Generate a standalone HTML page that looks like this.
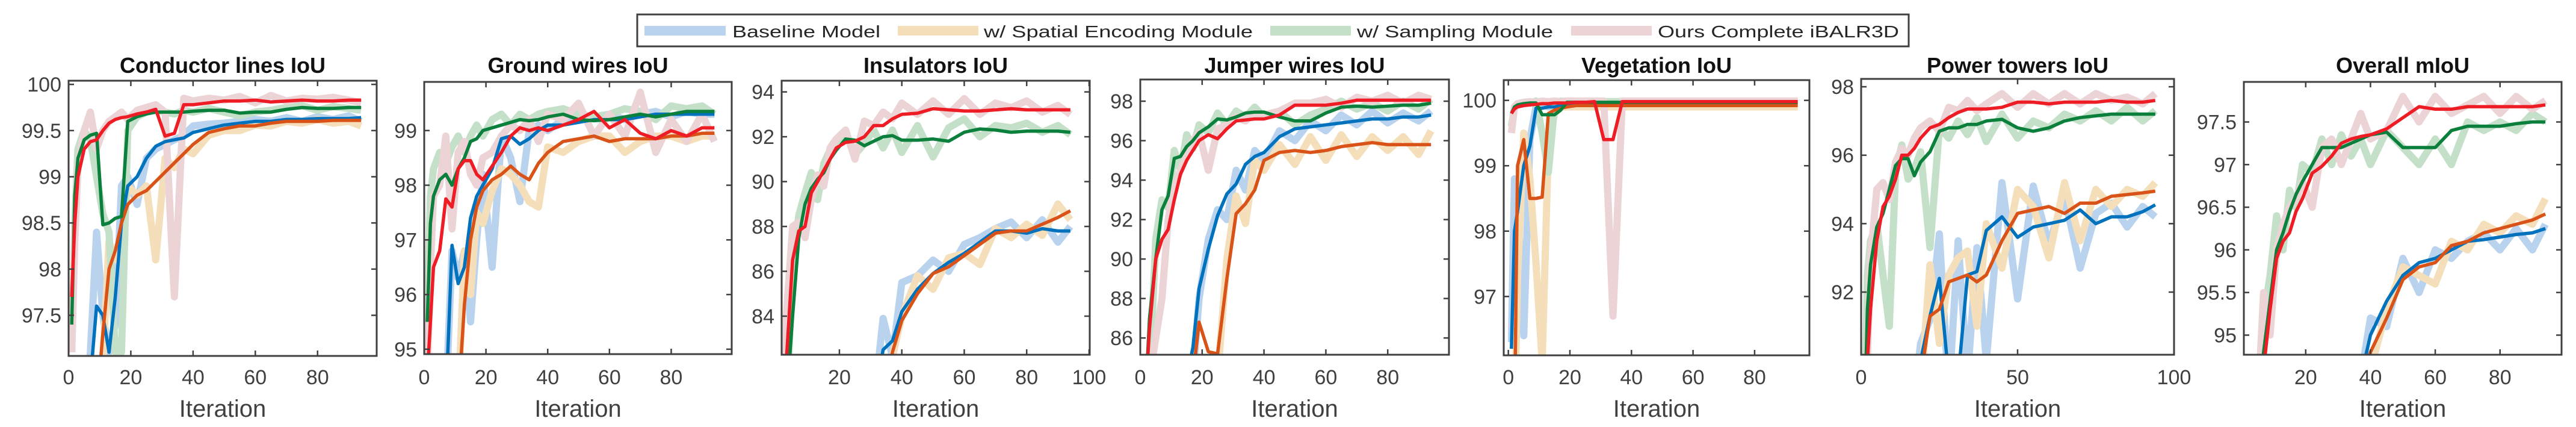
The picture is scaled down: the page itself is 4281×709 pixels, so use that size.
<!DOCTYPE html>
<html><head><meta charset="utf-8"><style>
html,body{margin:0;padding:0;background:#fff;}
svg{display:block;font-family:"Liberation Sans",Arial,sans-serif;}
</style></head><body>
<svg id="fig" width="4281" height="709" viewBox="0 0 4281 709" xmlns="http://www.w3.org/2000/svg">
<g id="legend">
<rect x="1059" y="24" width="2113" height="53" fill="#fff" stroke="#404040" stroke-width="3"/>
<g><rect x="1071" y="43" width="135" height="16" fill="#b9d3ee"/><text x="1217" y="62" font-size="28" textLength="246" lengthAdjust="spacingAndGlyphs" fill="#262626">Baseline Model</text></g>
<g><rect x="1492" y="43" width="134" height="16" fill="#f5dfba"/><text x="1635" y="62" font-size="28" textLength="447" lengthAdjust="spacingAndGlyphs" fill="#262626">w/ Spatial Encoding Module</text></g>
<g><rect x="2111" y="43" width="134" height="16" fill="#c4e0c8"/><text x="2255" y="62" font-size="28" textLength="326" lengthAdjust="spacingAndGlyphs" fill="#262626">w/ Sampling Module</text></g>
<g><rect x="2611" y="43" width="134" height="16" fill="#ecd4d6"/><text x="2755" y="62" font-size="28" textLength="401" lengthAdjust="spacingAndGlyphs" fill="#262626">Ours Complete iBALR3D</text></g>
</g>
</svg>
<script>
const iters=[1,2,3,5,7,9,11,13,15,17,19,22,25,28,31,34,37,40,45,50,55,60,65,70,75,80,85,90,94];
const panelTitles=["Conductor lines IoU","Ground wires IoU","Insulators IoU","Jumper wires IoU","Vegetation IoU","Power towers IoU","Overall mIoU"];
const yTicks=[[97.5,98,98.5,99,99.5,100],[95,96,97,98,99],[84,86,88,90,92,94],[86,88,90,92,94,96,98],[97,98,99,100],[92,94,96,98],[95,95.5,96,96.5,97,97.5]];
const xTicks=[[0,20,40,60,80],[0,20,40,60,80],[20,40,60,80,100],[0,20,40,60,80],[0,20,40,60,80],[0,50,100],[20,40,60,80]];
const xLimits=[[0,99],[0,99.6],[1.5,100.2],[0,99.8],[-1.5,97.8],[0,100],[0.9,99]];
const yLimits=[[97.06,100.04],[94.91,99.89],[82.28,94.5],[85.15,99.1],[96.1,100.31],[90.17,98.23],[94.77,97.97]];
// P1 Conductor lines
const p1BlueRaw=[96.5,96.5,96.5,96.5,97.1,98.4,97.5,97.1,97.4,98.9,99.0,98.7,99.2,99.3,99.35,99.4,99.45,99.55,99.57,99.58,99.6,99.62,99.6,99.64,99.6,99.65,99.62,99.66,99.6];
const p1OrangeRaw=[96.5,96.5,96.5,96.5,96.5,96.5,97.0,98.3,98.1,98.2,98.9,98.8,98.9,98.1,99.2,99.1,99.3,99.25,99.45,99.5,99.5,99.56,99.55,99.6,99.58,99.62,99.58,99.6,99.55];
const p1GreenRaw=[97.1,98.5,99.3,99.5,99.4,99.0,98.6,98.4,97.1,97.1,99.5,99.65,99.7,99.72,99.7,99.68,99.72,99.7,99.74,99.7,99.66,99.7,99.72,99.75,99.77,99.72,99.76,99.74,99.72];
const p1RedRaw=[97.1,98.3,99.1,99.5,99.7,99.3,99.5,99.6,99.65,99.7,99.62,99.72,99.75,99.78,99.7,97.7,99.85,99.82,99.85,99.83,99.87,99.8,99.88,99.82,99.85,99.84,99.86,99.83,99.8];
const p1Blue=[96.5,96.5,96.5,96.5,96.8,97.6,97.5,97.1,97.7,98.5,98.9,99.0,99.2,99.33,99.38,99.4,99.42,99.48,99.52,99.56,99.58,99.6,99.6,99.62,99.62,99.63,99.63,99.63,99.64];
const p1Orange=[96.5,96.5,96.5,96.5,96.5,96.5,97.3,98.0,98.2,98.5,98.7,98.8,98.85,98.95,99.05,99.15,99.25,99.35,99.48,99.52,99.55,99.55,99.58,99.6,99.6,99.6,99.61,99.61,99.61];
const p1Green=[97.4,98.8,99.2,99.4,99.45,99.47,98.48,98.5,98.55,98.57,99.6,99.65,99.68,99.7,99.7,99.7,99.7,99.71,99.72,99.72,99.69,99.7,99.7,99.73,99.75,99.74,99.74,99.75,99.75];
const p1Red=[97.7,98.5,99.0,99.3,99.38,99.4,99.5,99.58,99.62,99.64,99.65,99.68,99.7,99.73,99.44,99.47,99.78,99.78,99.8,99.82,99.82,99.83,99.81,99.82,99.83,99.82,99.82,99.83,99.83];
// P2 Ground wires
const p2BlueRaw=[94,94,94,94,94,96.8,96.3,96.8,95.5,97.0,98.2,96.5,98.9,98.5,97.7,99.0,99.1,99.0,99.2,99.2,99.25,99.3,99.2,99.3,99.35,99.25,99.35,99.3,99.3];
const p2OrangeRaw=[94,94,94,94,94,94,94,96.8,96.0,97.5,97.3,97.9,98.3,98.2,98.0,97.7,97.6,98.7,98.6,98.8,98.9,98.9,98.6,98.8,98.9,98.9,98.8,98.9,98.9];
const p2GreenRaw=[95.5,97.8,98.3,98.6,98.4,98.7,98.9,98.6,98.9,99.1,98.9,99.2,99.3,99.1,99.3,99.2,99.3,99.35,99.4,99.3,99.25,99.3,99.4,99.35,99.2,99.45,99.4,99.45,99.3];
const p2RedRaw=[94.5,96.5,97.8,98.0,98.9,97.2,98.6,98.8,98.2,98.0,98.5,98.6,98.9,99.1,99.0,99.2,98.8,99.3,99.2,99.5,98.9,99.3,98.9,99.7,98.6,99.2,98.8,99.3,98.8];
const p2Blue=[94,94,94,94,94,96.9,96.2,96.5,97.4,97.8,98.0,98.3,98.85,98.9,98.75,98.85,99.0,99.1,99.1,99.15,99.2,99.2,99.2,99.25,99.3,99.3,99.3,99.3,99.3];
const p2Orange=[94,94,94,94,94,94,94,95.8,97.0,97.6,97.9,98.1,98.2,98.35,98.2,98.1,98.4,98.6,98.8,98.85,98.9,98.8,98.85,98.85,98.85,98.9,98.9,98.95,98.95];
const p2Green=[95.5,97.3,97.8,98.1,98.2,98.0,98.3,98.5,98.8,98.85,99.0,99.05,99.1,99.15,99.2,99.18,99.2,99.25,99.3,99.2,99.18,99.2,99.25,99.3,99.25,99.3,99.35,99.35,99.35];
const p2Red=[94.5,95.5,96.5,96.8,97.75,97.6,98.3,98.45,98.45,98.2,98.1,98.35,98.6,98.9,99.05,99.0,99.05,99.0,99.1,99.2,99.35,99.05,99.2,98.95,98.85,99.0,98.9,99.05,99.05];
// P3 Insulators
const p3BlueRaw=[80,80,80,80,80,80,80,80,80,80,80,80,80,80,80,83.9,82.2,85.5,85.8,86.5,86.0,87.2,87.5,87.9,88.2,87.5,88.3,87.3,88.0];
const p3OrangeRaw=[80,80,80,80,80,80,80,80,80,80,80,80,80,80,80,80,82.2,84.0,85.8,85.2,86.6,86.8,86.3,87.9,87.5,88.1,87.6,89.0,88.3];
const p3GreenRaw=[80,80,80,86,88.5,89.5,90.4,89.2,90.8,91.4,91.8,92.2,91.2,91.7,92.3,91.5,92.3,91.3,92.5,91.1,92.4,92.8,92.0,92.5,92.4,92.6,92.2,92.5,92.1];
const p3RedRaw=[80,80,84,88,88.2,87.5,89.2,90.3,89.8,91.5,91.9,92.3,91.0,92.7,92.5,93.1,92.8,93.5,93.0,93.6,93.0,93.7,93.0,93.5,93.3,93.6,93.1,93.4,93.0];
const p3Blue=[80,80,80,80,80,80,80,80,80,80,80,80,80,80,80,82.5,82.9,84.2,85.2,85.9,86.4,86.8,87.3,87.8,87.8,87.7,87.9,87.8,87.8];
const p3Orange=[80,80,80,80,80,80,80,80,80,80,80,80,80,80,80,80,82.4,83.8,85.0,85.9,86.2,86.7,87.2,87.7,87.8,87.8,88.1,88.4,88.7];
const p3Green=[80,80,80,84,87.5,89.0,89.7,90.1,90.4,91.0,91.4,91.9,91.85,91.6,91.8,92.0,92.05,91.85,91.85,91.9,91.8,92.2,92.35,92.3,92.2,92.25,92.25,92.25,92.2];
const p3Red=[80,80,82,86.5,87.8,88.0,89.5,90.0,90.5,91.0,91.5,91.75,91.8,92.0,92.5,92.5,92.8,93.0,93.05,93.25,93.2,93.15,93.15,93.2,93.25,93.2,93.2,93.2,93.2];
// P4 Jumper wires
const p4BlueRaw=[84,84,84,84,84,84,84,84,84,84,88,91,92.5,92.0,94.5,93.5,95.5,95.0,96.5,96.0,97.0,96.5,97.3,96.8,97.5,96.9,97.4,97.0,97.5];
const p4OrangeRaw=[84,84,84,84,84,84,84,84,84,84,84,85,84,90,93.2,91.8,95,94.5,95.8,94.8,96.2,95.0,96.3,95.2,96.2,95.5,96.2,95.3,96.5];
const p4GreenRaw=[84,84,84,91,93,92.6,95.5,94.5,96.3,95.6,96.8,96.4,97.4,96.8,97.5,97.2,97.7,97.2,97.5,96.8,97.3,97.6,98.0,97.6,97.9,97.5,98.0,97.6,98.1];
const p4RedRaw=[84,84,84,86,88,92,93.7,94.5,95.2,96.0,96.4,94.5,96.6,96.8,97.2,97.0,97.4,97.3,97.5,97.9,97.9,98.1,97.7,98.2,98.0,98.3,97.9,98.3,98.1];
const p4Blue=[84,84,84,84,84,84,84,84,84,85.5,88.5,90.5,92.2,93.3,93.8,94.8,95.2,95.4,96.2,96.6,96.7,96.8,96.9,97.0,97.1,97.1,97.2,97.2,97.3];
const p4Orange=[84,84,84,84,84,84,84,84,84,84,86.8,85.3,85.2,89,92.3,92.8,93.5,95.0,95.4,95.5,95.4,95.5,95.7,95.8,95.9,95.8,95.8,95.8,95.8];
const p4Green=[84,84,87,90,92.5,93.2,95.1,95.2,95.7,96.0,96.4,96.7,97.1,97.05,97.2,97.4,97.45,97.45,97.2,97.0,97.0,97.4,97.7,97.75,97.7,97.75,97.8,97.8,97.9];
const p4Red=[84,84,86.5,90,91,91.5,93,94.3,95.0,95.5,96.0,96.3,96.1,96.6,97.0,97.05,97.1,97.1,97.3,97.8,97.8,97.8,97.9,98.05,98.05,98.05,98.05,98.05,98.05];
// P5 Vegetation
const p5BlueRaw=[96.3,98.8,98.5,96.4,99.4,99.9,99.95,99.9,99.92,99.95,99.92,99.92,99.92,99.92,99.92,99.92,99.92,99.92,99.92,99.92,99.92,99.92,99.92,99.92,99.92,99.92,99.92,99.92,99.92];
const p5OrangeRaw=[95,95,97.3,99.5,98.8,97.5,96.0,99.3,99.8,99.9,99.9,99.9,99.9,99.9,99.9,99.9,99.9,99.9,99.9,99.9,99.9,99.9,99.9,99.9,99.9,99.9,99.9,99.9,99.9];
const p5GreenRaw=[99.6,99.9,99.95,99.97,99.96,99.99,99.5,98.9,99.9,99.99,99.98,99.98,99.98,99.98,99.98,99.98,99.98,99.98,99.98,99.98,99.98,99.98,99.98,99.98,99.98,99.98,99.98,99.98,99.98];
const p5RedRaw=[99.5,99.9,99.95,99.97,99.98,99.97,99.99,99.98,99.99,99.98,99.99,99.99,99.99,99.99,99.99,96.7,99.99,99.99,99.99,99.99,99.99,99.99,99.99,99.99,99.99,99.99,99.99,99.99,99.99];
const p5Blue=[96.2,98.0,98.3,99.0,99.3,99.88,99.88,99.9,99.9,99.92,99.93,99.93,99.93,99.93,99.93,99.93,99.93,99.93,99.93,99.93,99.93,99.93,99.93,99.93,99.93,99.93,99.93,99.93,99.93];
const p5Orange=[95,95,99.0,99.4,98.5,98.5,98.52,99.8,99.85,99.88,99.9,99.92,99.92,99.92,99.92,99.92,99.92,99.92,99.92,99.92,99.92,99.92,99.92,99.92,99.92,99.92,99.92,99.92,99.92];
const p5Green=[99.8,99.9,99.93,99.95,99.96,99.96,99.78,99.78,99.78,99.85,99.97,99.97,99.97,99.97,99.97,99.97,99.97,99.97,99.97,99.97,99.97,99.97,99.97,99.97,99.97,99.97,99.97,99.97,99.97];
const p5Red=[99.8,99.87,99.9,99.92,99.93,99.94,99.95,99.95,99.96,99.96,99.96,99.97,99.97,99.98,99.4,99.4,99.98,99.98,99.98,99.98,99.98,99.98,99.98,99.98,99.98,99.98,99.98,99.98,99.98];
// P6 Power towers
const p6BlueRaw=[89,89,89,89,89,89,89,89,89,89,90.5,91.2,93.7,89,93.5,89.5,93.3,90,95.2,91.8,95.1,93.4,94.8,92.7,94.3,94.6,93.9,94.5,94.2];
const p6OrangeRaw=[89,89,89,89,89,89,89,89,89,89,89,92.8,90.5,92.5,93.0,93.2,91.0,94.0,92.7,95.0,94.5,93.0,95.2,93.5,95.0,94.5,95.0,94.8,95.2];
const p6GreenRaw=[88,92.5,93.5,94.0,92.5,91.0,95.5,96.3,95.3,95.6,96.1,93.3,96.8,96.5,97.0,96.6,97.1,96.4,97.2,96.5,97.0,96.8,97.2,97.0,97.3,97.0,97.4,97.0,97.3];
const p6RedRaw=[88,90,93,95,95.2,94.7,95.8,96.2,96.0,96.5,96.8,97.0,96.7,97.4,97.3,97.6,97.3,97.5,97.8,97.4,97.8,97.5,97.8,97.5,97.8,97.6,97.7,97.5,97.8];
const p6Blue=[89,89,89,89,89,89,89,89,89,89,90.0,91.3,92.4,89.5,89.5,92.5,92.6,93.8,94.2,93.6,93.9,94.0,94.1,94.4,94.0,94.2,94.2,94.35,94.55];
const p6Orange=[89,89,89,89,89,89,89,89,89,89,89.5,91.3,91.5,92.3,92.4,92.5,92.3,92.5,93.5,94.3,94.4,94.5,94.3,94.6,94.6,94.8,94.85,94.9,94.95];
const p6Green=[88,91.5,92.8,93.9,94.3,95.0,95.7,95.9,95.9,95.4,95.8,96.1,96.7,96.8,96.8,96.9,96.9,97.0,97.05,96.8,96.7,96.8,97.0,97.1,97.15,97.2,97.2,97.2,97.2];
const p6Red=[88,90,91.5,93.5,94.5,94.8,95.3,96.0,96.0,96.2,96.5,96.8,96.9,97.1,97.25,97.35,97.35,97.35,97.4,97.55,97.55,97.5,97.55,97.55,97.55,97.6,97.55,97.55,97.6];
// P7 Overall mIoU
const p7BlueRaw=[94.5,94.5,94.5,94.5,94.5,94.5,94.5,94.5,94.5,94.5,94.5,94.5,94.5,94.5,94.5,94.5,94.5,95.2,95.1,95.9,95.5,96.0,95.9,96.1,96.2,96.0,96.25,96.0,96.3];
const p7OrangeRaw=[94.5,94.5,94.5,94.5,94.5,94.5,94.5,94.5,94.5,94.5,94.5,94.5,94.5,94.5,94.5,94.5,94.5,94.6,95.3,95.8,95.7,95.6,96.1,96.0,96.3,96.2,96.4,96.3,96.6];
const p7GreenRaw=[94,94,94,94,95.2,95.7,96.4,96.0,96.7,96.5,97.0,96.9,97.3,97.0,97.35,97.1,97.3,97.0,97.4,97.2,97.0,97.3,97.0,97.5,97.4,97.5,97.4,97.6,97.5];
const p7RedRaw=[94,94,94,94,95.5,95.0,96.0,96.3,96.5,96.6,96.8,96.5,97.2,97.3,97.0,97.3,97.6,97.3,97.4,97.8,97.5,97.8,97.6,97.7,97.8,97.6,97.8,97.65,97.75];
const p7Blue=[94.5,94.5,94.5,94.5,94.5,94.5,94.5,94.5,94.5,94.5,94.5,94.5,94.5,94.5,94.5,94.5,94.5,95.0,95.4,95.7,95.85,95.9,96.0,96.1,96.12,96.15,96.18,96.2,96.25];
const p7Orange=[94.5,94.5,94.5,94.5,94.5,94.5,94.5,94.5,94.5,94.5,94.5,94.5,94.5,94.5,94.5,94.5,94.5,94.8,95.2,95.65,95.8,95.85,96.05,96.1,96.2,96.25,96.3,96.35,96.42];
const p7Green=[94,94,94,94,94.8,95.4,96.0,96.2,96.45,96.65,96.8,97.0,97.2,97.2,97.2,97.25,97.3,97.35,97.38,97.2,97.2,97.2,97.4,97.45,97.45,97.45,97.48,97.5,97.5];
const p7Red=[94,94,94,94,94.6,95.3,95.9,96.1,96.2,96.45,96.6,96.9,96.98,97.1,97.25,97.3,97.33,97.35,97.42,97.55,97.68,97.65,97.65,97.68,97.68,97.68,97.68,97.68,97.7];

const rawSeries=[[p1BlueRaw,p1OrangeRaw,p1GreenRaw,p1RedRaw],[p2BlueRaw,p2OrangeRaw,p2GreenRaw,p2RedRaw],[p3BlueRaw,p3OrangeRaw,p3GreenRaw,p3RedRaw],[p4BlueRaw,p4OrangeRaw,p4GreenRaw,p4RedRaw],[p5BlueRaw,p5OrangeRaw,p5GreenRaw,p5RedRaw],[p6BlueRaw,p6OrangeRaw,p6GreenRaw,p6RedRaw],[p7BlueRaw,p7OrangeRaw,p7GreenRaw,p7RedRaw]];
const smoothSeries=[[p1Blue,p1Orange,p1Green,p1Red],[p2Blue,p2Orange,p2Green,p2Red],[p3Blue,p3Orange,p3Green,p3Red],[p4Blue,p4Orange,p4Green,p4Red],[p5Blue,p5Orange,p5Green,p5Red],[p6Blue,p6Orange,p6Green,p6Red],[p7Blue,p7Orange,p7Green,p7Red]];

const boxes=[[114,134,626,591],[705,136,1216,588],[1299,134,1811,589],[1895,132,2408,589],[2499,133,3007,590],[3093,131,3613,589],[3729,136,4257,589]];
const lightCols=["#b9d3ee","#f5dfba","#c4e0c8","#ecd4d6"];
const darkCols=["#0072bd","#d95319","#0b7f3c","#ee1c25"];
const seriesNames=["baseline","spatial-encoding","sampling","complete"];
const slugs=["conductor-lines","ground-wires","insulators","jumper-wires","vegetation","power-towers","overall-miou"];
const NS="http://www.w3.org/2000/svg";
const svg=document.getElementById('fig');
function mk(tag,attrs,parent){const e=document.createElementNS(NS,tag);for(const k in attrs)e.setAttribute(k,attrs[k]);parent.appendChild(e);return e;}
const defs=mk('defs',{},svg);
boxes.forEach((b,p)=>{
  const [x0,y0,x1,y1]=b;const [xa,xb]=xLimits[p];const [ya,yb]=yLimits[p];
  const sx=v=>x0+(v-xa)/(xb-xa)*(x1-x0);
  const sy=v=>y1-(v-ya)/(yb-ya)*(y1-y0);
  const g=mk('g',{},svg);
  
  
  const cp=mk('clipPath',{id:'clip'+p},defs);
  mk('rect',{x:x0,y:y0,width:x1-x0,height:y1-y0},cp);
  const plot=mk('g',{'clip-path':'url(#clip'+p+')'},g);
  
  
  const draw=(arr,col,w,name)=>{
    const pts=arr.map((v,i)=>sx(iters[i]).toFixed(1)+','+sy(v).toFixed(1)).join(' ');
    const pl=mk('polyline',{points:pts,fill:'none',stroke:col,'stroke-width':w,'stroke-linejoin':'round','stroke-linecap':'butt'},plot);
    
    
  };
  rawSeries[p].forEach((a,i)=>draw(a,lightCols[i],12,seriesNames[i]+'-raw-line'));
  smoothSeries[p].forEach((a,i)=>draw(a,darkCols[i],5.5,seriesNames[i]+'-smoothed-line'));
  const ax=mk('g',{},g);
  
  
  yTicks[p].forEach(t=>{const y=sy(t);
    mk('line',{x1:x0,x2:x0+9,y1:y,y2:y,stroke:'#404040','stroke-width':2.5},ax);
    mk('line',{x1:x1,x2:x1-9,y1:y,y2:y,stroke:'#404040','stroke-width':2.5},ax);
    const tx=mk('text',{x:x0-12,y:y+12,'font-size':34,'text-anchor':'end',fill:'#404040'},ax);
    
    
    tx.textContent=String(t);});
  xTicks[p].forEach(t=>{const x=sx(t);
    mk('line',{x1:x,x2:x,y1:y1,y2:y1-9,stroke:'#404040','stroke-width':2.5},ax);
    mk('line',{x1:x,x2:x,y1:y0,y2:y0+9,stroke:'#404040','stroke-width':2.5},ax);
    const tx=mk('text',{x:x,y:638,'font-size':34,'text-anchor':'middle',fill:'#404040'},ax);
    
    
    tx.textContent=String(t);});
  const fr=mk('rect',{x:x0,y:y0,width:x1-x0,height:y1-y0,fill:'none',stroke:'#404040','stroke-width':3},ax);
  
  
  const xl=mk('text',{x:(x0+x1)/2,y:692,'font-size':40,'text-anchor':'middle',fill:'#404040'},g);
  
  
  xl.textContent='Iteration';
  const tl=mk('text',{x:(x0+x1)/2,y:121,'font-size':36,'font-weight':'bold','text-anchor':'middle',fill:'#111'},g);
  
  
  tl.textContent=panelTitles[p];
});
svg.appendChild(document.getElementById('legend'));
</script>
</body></html>
